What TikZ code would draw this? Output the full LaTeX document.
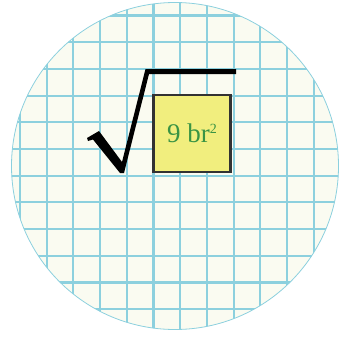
\documentclass[tikz,border=0pt]{standalone}
\usepackage{fontspec}
\setmainfont{Liberation Serif}
\usepackage{tikz}
\definecolor{PaperCream}{RGB}{250,251,241}
\definecolor{GridBlue}{RGB}{140,208,222}
\definecolor{BoxYellow}{RGB}{241,238,126}
\definecolor{BoxEdge}{RGB}{50,50,50}
\definecolor{TermGreen}{RGB}{58,148,68}
\newcommand{\smallsq}{\raisebox{9pt}{\fontsize{14}{14}\selectfont 2}}

\begin{document}
\begin{tikzpicture}[x=1pt,y=-1pt,
  gridline/.style={draw=GridBlue,line width=2.1pt},
  termbox/.style={rectangle,draw=BoxEdge,line width=2.4pt,fill=BoxYellow,minimum size=77pt,inner sep=0pt,
    font=\fontsize{27}{29}\selectfont,text=TermGreen}
]
  \useasboundingbox (0,0) rectangle (344,337);
  \fill[PaperCream] (175,166) circle[radius=163.5];
  \begin{scope}
    \clip (175,166) circle[radius=163.5];
    \foreach \i in {0,...,11} {
      \draw[gridline] (20+26.7*\i,0) -- (20+26.7*\i,337);
      \draw[gridline] (0,15.5+26.7*\i) -- (344,15.5+26.7*\i);
    }
  \end{scope}
  \draw[GridBlue,line width=0.8pt] (175,166) circle[radius=163.5];
  % radical sign
  \fill[black] (87,138) -- (99,131) -- (122,162) -- (145.5,69) -- (236,69) -- (236,74)
    -- (149,74) -- (124,173) -- (120,173) -- (93,139.5) -- (88,141) -- cycle;
  \node[termbox] (term) at (192,133.5) {9 br\smallsq};
\end{tikzpicture}
\end{document}
